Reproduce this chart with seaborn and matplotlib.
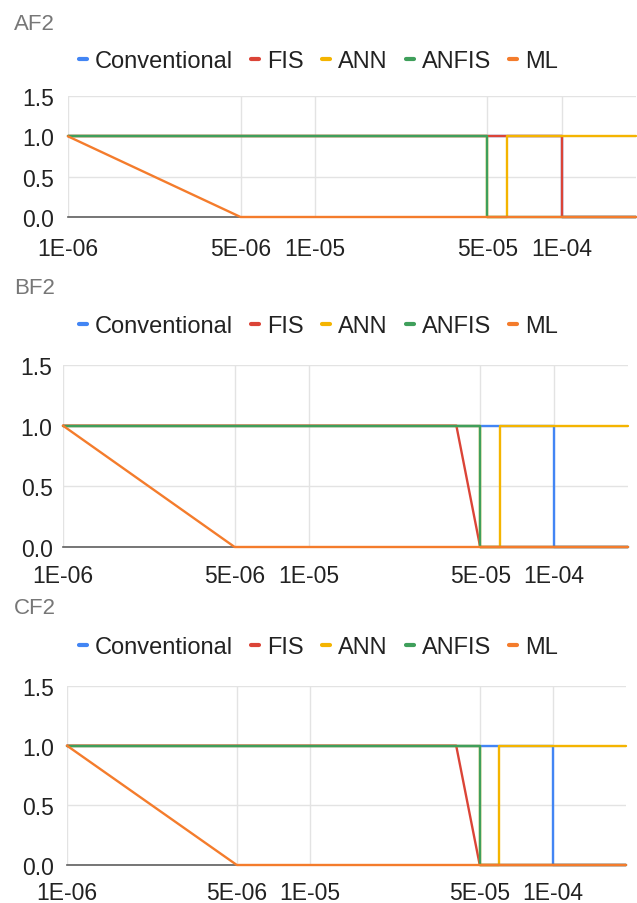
import numpy as np
import pandas as pd
import matplotlib
matplotlib.use('Agg')
import matplotlib.pyplot as plt
from matplotlib.lines import Line2D
import seaborn as sns

# common x grid (duplicated x values give the vertical steps)
x_vals = [1e-6, 5e-6, 1e-5, 4e-5, 5e-5, 5e-5, 6e-5, 6e-5, 1e-4, 1e-4, 2e-4]

methods = ['Conventional', 'FIS', 'ANN', 'ANFIS', 'ML']
colors = ['#4285F4', '#DB4437', '#F4B400', '#3F9F5B', '#F47C2C']

# AF2
af2_conv = [1, 1, 1, 1, 1, 1, 1, 1, 1, 0, 0]
af2_fis = [1, 1, 1, 1, 1, 1, 1, 1, 1, 0, 0]
af2_ann = [1, 1, 1, 1, 1, 0, 0, 1, 1, 1, 1]
af2_anfis = [1, 1, 1, 1, 1, 0, 0, 0, 0, 0, 0]
af2_ml = [1, 0, 0, 0, 0, 0, 0, 0, 0, 0, 0]

# BF2
bf2_conv = [1, 1, 1, 1, 1, 1, 1, 1, 1, 0, 0]
bf2_fis = [1, 1, 1, 1, 0, 0, 0, 0, 0, 0, 0]
bf2_ann = [1, 1, 1, 1, 1, 0, 0, 1, 1, 1, 1]
bf2_anfis = [1, 1, 1, 1, 1, 0, 0, 0, 0, 0, 0]
bf2_ml = [1, 0, 0, 0, 0, 0, 0, 0, 0, 0, 0]

# CF2
cf2_conv = [1, 1, 1, 1, 1, 1, 1, 1, 1, 0, 0]
cf2_fis = [1, 1, 1, 1, 0, 0, 0, 0, 0, 0, 0]
cf2_ann = [1, 1, 1, 1, 1, 0, 0, 1, 1, 1, 1]
cf2_anfis = [1, 1, 1, 1, 1, 0, 0, 0, 0, 0, 0]
cf2_ml = [1, 0, 0, 0, 0, 0, 0, 0, 0, 0, 0]

x_ticks = [1e-6, 5e-6, 1e-5, 5e-5, 1e-4]
x_ticklabels = ['1E-06', '5E-06', '1E-05', '5E-05', '1E-04']
y_ticks = [0, 0.5, 1.0, 1.5]
y_ticklabels = ['0.0', '0.5', '1.0', '1.5']

sns.set_theme(style='white')
plt.rcParams['font.family'] = ['Liberation Sans', 'DejaVu Sans']

W, H = 637, 904
fig = plt.figure(figsize=(W / 100, H / 100), dpi=100)

# panel layout in pixels: left, right, top(y=1.5), bottom(y=0), title y, legend y, xpad, ypad, ticks
panels = [
    ('AF2', [af2_conv, af2_fis, af2_ann, af2_anfis, af2_ml], 68, 636, 97, 218, 25, 62, 14, 10, True),
    ('BF2', [bf2_conv, bf2_fis, bf2_ann, bf2_anfis, bf2_ml], 63, 628, 366, 548, 288, 327, 12, 7.5, False),
    ('CF2', [cf2_conv, cf2_fis, cf2_ann, cf2_anfis, cf2_ml], 67, 626, 687, 866, 609, 648, 11.5, 9.5, False),
]

palette = dict(zip(methods, colors))

for name, series, l, r, t, b, ty, ly, xpad, ypad, ticks in panels:
    ax = fig.add_axes([l / W, 1 - b / H, (r - l) / W, (b - t) / H])
    rows = []
    for m, vals in zip(methods, series):
        for xv, yv in zip(x_vals, vals):
            rows.append({'x': xv, 'y': yv, 'method': m})
    df = pd.DataFrame(rows)
    ax.set_xscale('log')
    sns.lineplot(data=df, x='x', y='y', hue='method', hue_order=methods, palette=palette,
                 estimator=None, sort=False, legend=False, linewidth=1.7, ax=ax,
                 zorder=3, clip_on=False)
    ax.set_xlim(1e-6, 2e-4)
    ax.set_ylim(0, 1.5)
    ax.set_xticks(x_ticks)
    ax.set_xticklabels(x_ticklabels)
    ax.xaxis.set_minor_locator(matplotlib.ticker.NullLocator())
    ax.set_yticks(y_ticks)
    ax.set_yticklabels(y_ticklabels)
    ax.set_xlabel('')
    ax.set_ylabel('')
    ax.grid(True, color='#e3e3e3', linewidth=1)
    ax.set_axisbelow(True)
    for s in ['top', 'right', 'left']:
        ax.spines[s].set_visible(False)
    ax.spines['bottom'].set_color('#5f5f5f')
    ax.spines['bottom'].set_linewidth(1.2)
    if ticks:
        ax.tick_params(axis='x', direction='inout', length=5, width=1, color='#444444', pad=xpad - 2)
    else:
        ax.tick_params(axis='x', length=0, pad=xpad)
    ax.tick_params(axis='y', length=0, pad=ypad)
    ax.tick_params(labelsize=16.5, labelcolor='#222222')

    fig.text(14 / W, 1 - ty / H, name, fontsize=16, color='#777777', va='center', ha='left')

    handles = [Line2D([0], [0], color=c, lw=3) for c in colors]
    fig.legend(handles, methods, loc='center', bbox_to_anchor=(0.5, 1 - ly / H), ncol=5,
               frameon=False, fontsize=17, handlelength=0.35, handletextpad=0.35,
               columnspacing=0.75, labelcolor='#222222', borderaxespad=0, borderpad=0)

fig.savefig('out.png', dpi=100)
